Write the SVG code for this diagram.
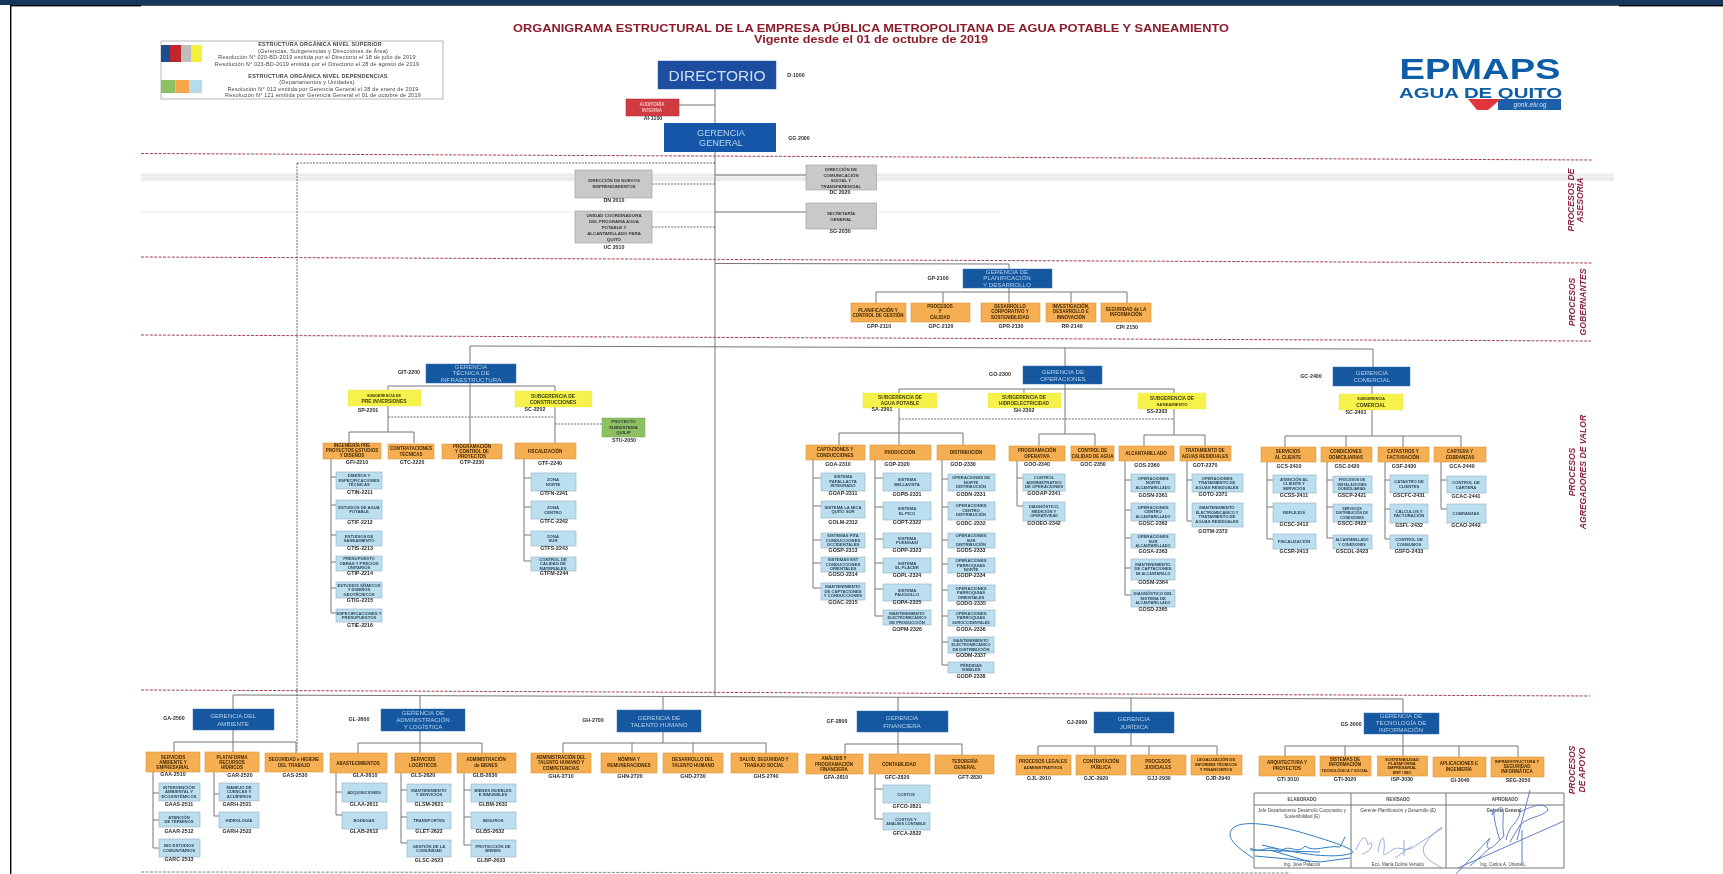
<svg xmlns="http://www.w3.org/2000/svg" width="1723" height="874" viewBox="0 0 1723 874">
<style>
text{font-family:"Liberation Sans",Arial,sans-serif;text-anchor:middle}
.ger{fill:#15589f;stroke:#2e6fb5;stroke-width:.5}
.org{fill:#f6ae52;stroke:#d9963f;stroke-width:.6}
.blu{fill:#bcdff0;stroke:#8fb0c4;stroke-width:.6}
.yel{fill:#f6f24c;stroke:#e6e34a;stroke-width:.4}
.gry{fill:#c9c9c9;stroke:#9a9a9a;stroke-width:.6}
.tg{font-size:6.2px;fill:#b4cfeb}
.to{font-size:4.5px;font-weight:bold;fill:#3f2804}
.tb{font-size:4.2px;fill:#33495a;font-weight:bold}
.ty{font-size:4.9px;font-weight:bold;fill:#3f3f08}
.tr{font-size:4.4px;font-weight:bold;fill:#3a3a3a}
.lb{font-size:5.3px;font-weight:bold;fill:#2e2e2e}
.pr{font-size:8.6px;font-weight:bold;font-style:italic;fill:#8c2340}
.leg{font-size:5.5px;letter-spacing:.2px;fill:#444}
.tbl{font-size:4.5px;fill:#444}
.sol{fill:none;stroke:#777;stroke-width:1}
.dsh{fill:none;stroke:#444;stroke-width:.8;stroke-dasharray:2 1.2}
.red{fill:none;stroke:#a4404f;stroke-width:1;stroke-dasharray:3 1.4}
.grd{fill:none;stroke:#777;stroke-width:.9;stroke-dasharray:3 1.4}
.scn{fill:none;stroke:#ececec}
.sg1{fill:none;stroke:#2d7cc0;stroke-width:1}
.sg2{fill:none;stroke:#7c9ad0;stroke-width:.8}
.sg3{fill:none;stroke:#5f80c4;stroke-width:1}
</style>
<defs><filter id="soft" x="0" y="0" width="100%" height="100%"><feGaussianBlur stdDeviation="0.38"/></filter></defs>
<rect width="1723" height="874" fill="#fff"/>
<g id="page-frame">
<rect x="0" y="0" width="1723" height="5" fill="#17365d"/>
<rect x="10" y="5" width="1713" height=".7" fill="#000"/>
<rect x="10" y="5" width="131" height="1.4" fill="#000"/>
<rect x="1619" y="5" width="104" height="1.4" fill="#000"/>
<rect x="10" y="5" width="1.4" height="869" fill="#000"/>
</g>
<g filter="url(#soft)">
<g id="bands">
<path class="scn" stroke-width="3" d="M141 175H1614"/>
<path class="scn" stroke-width="4" d="M141 179H1614"/>
<path class="scn" stroke-width="1" d="M141 212H1000"/>
<path class="red" d="M141 153.5L1592 160"/>
<path class="red" d="M141 257L1592 263"/>
<path class="red" d="M141 335L1591 341"/>
<path class="red" d="M141 690L1590 696"/>
<path class="grd" d="M141 872L1290 873"/>
</g>
<g id="connectors">
<path class="sol" d="M715 89V697M679 105H715M715 175H806M715 212H806M715 263.500L1009 264V269M876 292H1127M876 292V303M943 292V303M1009 288V303M1071 292V303M1127 292V303"/>
<path class="sol" d="M470 346L1373 349M470 346V364M1065 347.500V366M1373 349V367"/>
<path class="sol" d="M233 695L1403 699M233 695V709M420 696V709M663 697V710M898 697V711M1131 698V712M1403 699V713"/>
<path class="dsh" d="M297 163H715M297 163V752M652 184H715M652 227H715M388 417H555M555 424H602M899 419H1174"/>
<path class="sol" d="M388 386H555M388 386V390M555 386V391M470 383V444M388 406V432M349 432H414M349 432V443M414 432V443M555 407V444"/>
<path class="sol" d="M331 459V613M331 477H336M331 505H336M331 535H336M331 562H336M331 588H336M331 613H336M524 459V561M524 478H531M524 507H531M524 535H531M524 561H531"/>
<path class="sol" d="M899 389H1174M899 389V393M1024 389V393M1174 389V393M1065 384V434M899 408V433M1174 409V435M839 433H963M839 433V445M899 433V445M963 433V445M1039 434H1095M1039 434V446M1095 434V446M1144 435H1205M1144 435V446M1205 435V446"/>
<path class="sol" d="M813 460V588M813 478H821M813 506H821M813 540H821M813 563H821M813 588H821M875 460V616M875 478H883M875 507H883M875 539H883M875 563H883M875 589H883M875 616H883M942 460V665M942 479H948M942 507H948M942 540H948M942 564H948M942 590H948M942 616H948M942 642H948M942 665H948M1017 461V506M1017 478H1023M1017 506H1023M1125 461V595M1125 480H1131M1125 510H1131M1125 538H1131M1125 568H1131M1125 595H1131M1187 461V521M1187 480H1192M1187 521H1192"/>
<path class="sol" d="M1372 386V436M1285 436H1461M1285 436V447M1346 436V447M1403 436V447M1461 436V447M1267 462V539M1267 480H1273M1267 507H1273M1267 539H1273M1327 462V538M1327 480H1333M1327 507H1333M1327 538H1333M1385 462V539M1385 480H1390M1385 509H1390M1385 539H1390M1441 462V509M1441 480H1447M1441 509H1447"/>
<path class="sol" d="M174 742H296M174 742V752M233 730V752M296 742V753M153 772V848M153 793H159M153 820H159M153 848H159M214 772V816M214 794H219M214 816H219M358 743H482M358 743V753M420 731V753M482 743V753M336 773V815M336 792H342M336 815H342M401 773V843M401 790H407M401 817H407M401 843H407M464 773V845M464 790H471M464 817H471M464 845H471"/>
<path class="sol" d="M563 743H766M563 743V753M632 743V753M693 743V753M766 743V753M663 732V743M845 744H962M845 744V754M898 732V754M962 744V755M875 774V819M875 789H883M875 819H883M1038 746H1217M1038 746V755M1095 746V755M1131 733V746M1149 746V755M1217 746V755M1285 746H1518M1285 746V756M1345 746V756M1403 734V756M1459 746V757M1518 746V757"/>
</g>
<g id="title">
<text x="871" y="31.500" font-size="10.500" font-weight="bold" fill="#8c1c2c" textLength="716" lengthAdjust="spacingAndGlyphs">ORGANIGRAMA ESTRUCTURAL DE LA EMPRESA PÚBLICA METROPOLITANA DE AGUA POTABLE Y SANEAMIENTO</text>
<text x="871" y="42.500" font-size="10.500" font-weight="bold" fill="#8c1c2c" textLength="234" lengthAdjust="spacingAndGlyphs">Vigente desde el 01 de octubre de 2019</text>
</g>
<g id="legend">
<rect x="161" y="41" width="282" height="58" fill="#fff" stroke="#999" stroke-width=".7"/>
<rect x="161" y="45" width="9" height="17" fill="#1f4e8c"/><rect x="170" y="45" width="11" height="17" fill="#c0272d"/><rect x="181" y="45" width="10" height="17" fill="#bdbdbd"/><rect x="191" y="45" width="11" height="17" fill="#f5f03a"/>
<rect x="161" y="80" width="14.500" height="13" fill="#8cc063"/><rect x="175.500" y="80" width="13.500" height="13" fill="#f7a64a"/><rect x="189" y="80" width="13" height="13" fill="#b5dcea"/>
<text class="leg" x="320" y="45.500" font-weight="bold">ESTRUCTURA ORGÁNICA NIVEL SUPERIOR</text>
<text class="leg" x="323" y="52.500">(Gerencias, Subgerencias y Direcciones de Área)</text>
<text class="leg" x="317" y="59">Resolución N° 020-BD-2019 emitida por el Directorio el 18 de julio de 2019</text>
<text class="leg" x="317" y="65.500">Resolución N° 023-BD-2019 emitida por el Directorio el 28 de agosto de 2019</text>
<text class="leg" x="318" y="77.500" font-weight="bold">ESTRUCTURA ORGÁNICA NIVEL DEPENDENCIAS</text>
<text class="leg" x="317" y="84">(Departamentos y Unidades)</text>
<text class="leg" x="323" y="90.500">Resolución N° 012 emitida por Gerencia General el 28 de enero de 2019</text>
<text class="leg" x="323" y="97">Resolución N° 121 emitida por Gerencia General el 01 de octubre de 2019</text>
</g>
<g id="logo">
<text x="1480" y="78.500" font-size="30" font-weight="bold" fill="#0b5ca6" textLength="161" lengthAdjust="spacingAndGlyphs">EPMAPS</text>
<text x="1480.500" y="97.500" font-size="15.500" font-weight="bold" fill="#0b5ca6" textLength="163" lengthAdjust="spacingAndGlyphs">AGUA DE QUITO</text>
<rect x="1498" y="99" width="63" height="11" fill="#1d5fa8"/>
<polygon points="1468,99 1501,99 1488,110 1477,110" fill="#e1353a"/>
<text x="1530" y="107" font-size="6.500" font-style="italic" fill="#cfe0f2">gonk.elv.og</text>
</g>
<g id="n-directorio"><rect x="658" y="61" width="118" height="28" fill="#1a4d9f" stroke="#2e62b0" stroke-width=".5"/><text x="717" y="80.500" font-size="15.500" fill="#cfe0f5">DIRECTORIO</text><text class="lb" x="796" y="77">D-1000</text></g>
<g id="n-auditoria"><rect x="626" y="99" width="53" height="17" fill="#cf3a3f" stroke="#b02a2f" stroke-width=".5"/><text x="652" y="106" font-size="4.500" font-weight="bold" fill="#f2c7c7">AUDITORÍA</text><text x="652" y="111.500" font-size="4.500" font-weight="bold" fill="#f2c7c7">INTERNA</text><text class="lb" x="653" y="120">AI-1100</text></g>
<g id="n-gerencia-general"><rect x="664" y="123" width="112" height="29" fill="#1557a8"/><text x="721" y="135.500" font-size="9.200" fill="#bcd3ee">GERENCIA</text><text x="721" y="145.500" font-size="9.200" fill="#bcd3ee">GENERAL</text><text class="lb" x="799" y="139.500">GG 2000</text></g>
<g id="n-dne"><rect class="gry" x="575" y="170" width="77" height="28"/><text class="tr" x="614" y="182">DIRECCIÓN DE NUEVOS</text><text class="tr" x="614" y="187.500">EMPRENDIMIENTOS</text><text class="lb" x="614" y="201.500">DN 2010</text></g>
<g id="n-uc"><rect class="gry" x="575" y="211" width="77" height="32"/><text class="tr" x="614" y="217">UNIDAD COORDINADORA</text><text class="tr" x="614" y="223">DEL PROGRAMA AGUA</text><text class="tr" x="614" y="229">POTABLE Y</text><text class="tr" x="614" y="235">ALCANTARILLADO PARA</text><text class="tr" x="614" y="241">QUITO</text><text class="lb" x="614" y="248.500">UC 2010</text></g>
<g id="n-dc"><rect class="gry" x="806" y="165" width="70.500" height="25"/><text class="tr" x="841" y="170.500">DIRECCIÓN DE</text><text class="tr" x="841" y="176.500">COMUNICACIÓN</text><text class="tr" x="841" y="182">SOCIAL Y</text><text class="tr" x="841" y="188">TRANSPARENCIAL</text><text class="lb" x="840" y="194">DC 2020</text></g>
<g id="n-sg"><rect class="gry" x="806" y="203" width="70.500" height="26"/><text class="tr" x="841" y="214.500">SECRETARÍA</text><text class="tr" x="841" y="220.500">GENERAL</text><text class="lb" x="840" y="232.500">SG-2030</text></g>
<g id="n-gp"><rect class="ger" x="963" y="269" width="89" height="19"/><text class="tg" x="1007" y="273.500">GERENCIA DE</text><text class="tg" x="1007" y="280">PLANIFICACIÓN</text><text class="tg" x="1007" y="286.500">Y DESARROLLO</text><text class="lb" x="938" y="280">GP-2100</text></g>
<g id="n-gpp"><rect class="org" x="851" y="303" width="55" height="19"/><text class="to" x="878" y="312">PLANIFICACIÓN Y</text><text class="to" x="878" y="317">CONTROL DE GESTIÓN</text><text class="lb" x="879" y="328">GPP-2110</text></g>
<g id="n-gpc"><rect class="org" x="911" y="303" width="59" height="19"/><text class="to" x="940" y="308">PROCESOS</text><text class="to" x="940" y="313">Y</text><text class="to" x="940" y="318.500">CALIDAD</text><text class="lb" x="941" y="328">GPC-2120</text></g>
<g id="n-gpr"><rect class="org" x="981" y="303" width="59" height="19"/><text class="to" x="1010" y="308">DESARROLLO</text><text class="to" x="1010" y="313">CORPORATIVO Y</text><text class="to" x="1010" y="318.500">SOSTENIBILIDAD</text><text class="lb" x="1011" y="328">GPR-2130</text></g>
<g id="n-gpi"><rect class="org" x="1046" y="303" width="50" height="19"/><text class="to" x="1071" y="308">INVESTIGACIÓN,</text><text class="to" x="1071" y="313">DESARROLLO E</text><text class="to" x="1071" y="318.500">INNOVACIÓN</text><text class="lb" x="1072" y="328">RR-2140</text></g>
<g id="n-cpi"><rect class="org" x="1101" y="303" width="50" height="19"/><text class="to" x="1126" y="311">SEGURIDAD de LA</text><text class="to" x="1126" y="316">INFORMACIÓN</text><text class="lb" x="1127" y="329">CPI 2150</text></g>
<g id="n-git"><rect class="ger" x="426" y="364" width="90" height="19"/><text class="tg" x="471" y="368.500">GERENCIA</text><text class="tg" x="471" y="375">TÉCNICA DE</text><text class="tg" x="471" y="381.500">INFRAESTRUCTURA</text><text class="lb" x="409" y="374">GIT-2200</text></g>
<g id="n-sp"><rect class="yel" x="348" y="390" width="73" height="16"/><text class="ty" x="384" y="396.500" style="font-size:3.800px">SUBGERENCIA DE</text><text class="ty" x="384" y="402.500">PRE INVERSIONES</text><text class="lb" x="368" y="412">SP-2201</text></g>
<g id="n-sc"><rect class="yel" x="515" y="391" width="77" height="16"/><text class="ty" x="553" y="397.500">SUBGERENCIA DE</text><text class="ty" x="553" y="403.500">CONSTRUCCIONES</text><text class="lb" x="535" y="411">SC-2202</text></g>
<g id="n-stu"><rect x="602" y="418" width="43" height="19" fill="#8cc063" stroke="#79a855" stroke-width=".5"/><text class="tr" x="623.500" y="423">PROYECTO</text><text class="tr" x="623.500" y="428.500">SUBSISTEMA</text><text class="tr" x="623.500" y="434">QUILIP</text><text class="lb" x="624" y="442">STU-2050</text></g>
<g id="n-gfi"><rect class="org" x="323" y="443" width="58" height="16"/><text class="to" x="352" y="447">INGENIERÍA PRE</text><text class="to" x="352" y="452">PROYECTOS ESTUDIOS</text><text class="to" x="352" y="457">Y DISEÑOS</text><text class="lb" x="357" y="464">GFI-2210</text></g>
<g id="n-gtc"><rect class="org" x="388" y="444" width="46" height="15"/><text class="to" x="411" y="450">CONTRATACIONES</text><text class="to" x="411" y="455.500">TÉCNICAS</text><text class="lb" x="412" y="464">GTC-2220</text></g>
<g id="n-gtp"><rect class="org" x="442" y="444" width="60" height="15"/><text class="to" x="472" y="447.500">PROGRAMACIÓN</text><text class="to" x="472" y="452.500">Y CONTROL DE</text><text class="to" x="472" y="457.500">PROYECTOS</text><text class="lb" x="472" y="464">GTP-2230</text></g>
<g id="n-gtf"><rect class="org" x="515" y="443" width="61" height="16"/><text class="to" x="545" y="453">FISCALIZACIÓN</text><text class="lb" x="550" y="465">GTF-2240</text></g>
<g id="n-gtin"><rect class="blu" x="336" y="472" width="46" height="17"/><text class="tb" x="359" y="477">DISEÑOS Y</text><text class="tb" x="359" y="481.500">ESPECIFICACIONES</text><text class="tb" x="359" y="486">TÉCNICAS</text><text class="lb" x="360" y="494">GTIN-2211</text></g>
<g id="n-gtif"><rect class="blu" x="336" y="500" width="46" height="19"/><text class="tb" x="359" y="508.500">ESTUDIOS DE AGUA</text><text class="tb" x="359" y="513">POTABLE</text><text class="lb" x="360" y="524">GTIF-2212</text></g>
<g id="n-gtis"><rect class="blu" x="336" y="531" width="46" height="15"/><text class="tb" x="359" y="537.500">ESTUDIOS DE</text><text class="tb" x="359" y="542">SANEAMIENTO</text><text class="lb" x="360" y="550">GTIS-2213</text></g>
<g id="n-gtip"><rect class="blu" x="336" y="556" width="46" height="15"/><text class="tb" x="359" y="560">PRESUPUESTO</text><text class="tb" x="359" y="564.500">OBRAS Y PRECIOS</text><text class="tb" x="359" y="569">UNITARIOS</text><text class="lb" x="360" y="575">GTIP-2214</text></g>
<g id="n-gtig"><rect class="blu" x="336" y="582" width="46" height="16"/><text class="tb" x="359" y="586.500">ESTUDIOS SÍSMICOS</text><text class="tb" x="359" y="591">Y DISEÑOS</text><text class="tb" x="359" y="595.500">GEOTÉCNICOS</text><text class="lb" x="360" y="602">GTIG-2215</text></g>
<g id="n-gtie"><rect class="blu" x="336" y="609" width="46" height="13"/><text class="tb" x="359" y="614.500">ESPECIFICACIONES Y</text><text class="tb" x="359" y="619">PRESUPUESTOS</text><text class="lb" x="360" y="627">GTIE-2216</text></g>
<g id="n-gtfn"><rect class="blu" x="531" y="473" width="45" height="18"/><text class="tb" x="553" y="481">ZONA</text><text class="tb" x="553" y="485.500">NORTE</text><text class="lb" x="554" y="494.500">GTFN-2241</text></g>
<g id="n-gtfc"><rect class="blu" x="531" y="501" width="45" height="18"/><text class="tb" x="553" y="509">ZONA</text><text class="tb" x="553" y="513.500">CENTRO</text><text class="lb" x="554" y="523">GTFC-2242</text></g>
<g id="n-gtfs"><rect class="blu" x="531" y="531" width="45" height="15"/><text class="tb" x="553" y="537.500">ZONA</text><text class="tb" x="553" y="542">SUR</text><text class="lb" x="554" y="550">GTFS-2243</text></g>
<g id="n-gtfm"><rect class="blu" x="531" y="557" width="45" height="14"/><text class="tb" x="553" y="561">CONTROL DE</text><text class="tb" x="553" y="565">CALIDAD DE</text><text class="tb" x="553" y="569.500">MATERIALES</text><text class="lb" x="554" y="575">GTFM-2244</text></g>
<g id="n-go"><rect class="ger" x="1023" y="366" width="79" height="18"/><text class="tg" x="1063" y="373.500">GERENCIA DE</text><text class="tg" x="1063" y="380.500">OPERACIONES</text><text class="lb" x="1000" y="376">GO-2300</text></g>
<g id="n-sa"><rect class="yel" x="863" y="393" width="74" height="15"/><text class="ty" x="900" y="399">SUBGERENCIA DE</text><text class="ty" x="900" y="405">AGUA POTABLE</text><text class="lb" x="882" y="411">SA-2301</text></g>
<g id="n-sh"><rect class="yel" x="988" y="393" width="73" height="15"/><text class="ty" x="1024" y="399">SUBGERENCIA DE</text><text class="ty" x="1024" y="405" style="font-size:4.700px">HIDROELECTRICIDAD</text><text class="lb" x="1024" y="411.500">SH-2302</text></g>
<g id="n-ss"><rect class="yel" x="1138" y="393" width="68" height="16"/><text class="ty" x="1172" y="399.500">SUBGERENCIA DE</text><text class="ty" x="1172" y="405.500" style="font-size:4.200px">SANEAMIENTO</text><text class="lb" x="1157" y="413">SS-2303</text></g>
<g id="n-goa"><rect class="org" x="806" y="445" width="59" height="15"/><text class="to" x="835" y="451">CAPTACIONES Y</text><text class="to" x="835" y="456.500">CONDUCCIONES</text><text class="lb" x="838" y="466">GOA-2310</text></g>
<g id="n-gop"><rect class="org" x="870" y="445" width="61" height="15"/><text class="to" x="900" y="454">PRODUCCIÓN</text><text class="lb" x="897" y="466">GOP-2320</text></g>
<g id="n-god"><rect class="org" x="937" y="445" width="58" height="15"/><text class="to" x="966" y="454">DISTRIBUCIÓN</text><text class="lb" x="963" y="466">GOD-2330</text></g>
<g id="n-goo"><rect class="org" x="1009" y="446" width="56" height="15"/><text class="to" x="1037" y="452">PROGRAMACIÓN</text><text class="to" x="1037" y="457.500">OPERATIVA</text><text class="lb" x="1037" y="466">GOO-2340</text></g>
<g id="n-goc"><rect class="org" x="1071" y="446" width="43" height="15"/><text class="to" x="1092.500" y="452">CONTROL DE</text><text class="to" x="1092.500" y="457.500">CALIDAD DE AGUA</text><text class="lb" x="1093" y="466">GOC-2350</text></g>
<g id="n-gos"><rect class="org" x="1119" y="446" width="55" height="15"/><text class="to" x="1146" y="455">ALCANTARILLADO</text><text class="lb" x="1147" y="467">GOS-2360</text></g>
<g id="n-got"><rect class="org" x="1180" y="446" width="51" height="15"/><text class="to" x="1205" y="452">TRATAMIENTO DE</text><text class="to" x="1205" y="457.500">AGUAS RESIDUALES</text><text class="lb" x="1205" y="467">GOT-2370</text></g>
<g id="n-goap"><rect class="blu" x="821" y="473" width="44" height="18"/><text class="tb" x="843" y="478">SISTEMA</text><text class="tb" x="843" y="482.500">PAPALLACTA</text><text class="tb" x="843" y="487">INTEGRADO</text><text class="lb" x="843" y="495">GOAP-2311</text></g>
<g id="n-golm"><rect class="blu" x="821" y="501" width="44" height="17"/><text class="tb" x="843" y="508.500">SISTEMA LA MICA</text><text class="tb" x="843" y="513">QUITO SUR</text><text class="lb" x="843" y="524">GOLM-2312</text></g>
<g id="n-gosp"><rect class="blu" x="821" y="533" width="44" height="15"/><text class="tb" x="843" y="537">SISTEMAS PITA</text><text class="tb" x="843" y="541.500">CONDUCCIONES</text><text class="tb" x="843" y="546">OCCIDENTALES</text><text class="lb" x="843" y="551.500">GOSP-2313</text></g>
<g id="n-goso"><rect class="blu" x="821" y="557" width="44" height="15"/><text class="tb" x="843" y="561">SISTEMAS EST</text><text class="tb" x="843" y="565.500">CONDUCCIONES</text><text class="tb" x="843" y="570">ORIENTALES</text><text class="lb" x="843" y="576">GOSO-2314</text></g>
<g id="n-goac"><rect class="blu" x="821" y="583" width="44" height="17"/><text class="tb" x="843" y="588">MANTENIMIENTO</text><text class="tb" x="843" y="592.500">DE CAPTACIONES</text><text class="tb" x="843" y="597">Y CONDUCCIONES</text><text class="lb" x="843" y="604">GOAC-2315</text></g>
<g id="n-gopb"><rect class="blu" x="883" y="473" width="48" height="18"/><text class="tb" x="907" y="481">SISTEMA</text><text class="tb" x="907" y="485.500">BELLAVISTA</text><text class="lb" x="907" y="496">GOPB-2321</text></g>
<g id="n-gopt"><rect class="blu" x="883" y="502" width="48" height="18"/><text class="tb" x="907" y="510">SISTEMA</text><text class="tb" x="907" y="514.500">EL PICO</text><text class="lb" x="907" y="524">GOPT-2322</text></g>
<g id="n-gopp"><rect class="blu" x="883" y="533" width="48" height="15"/><text class="tb" x="907" y="539.500">SISTEMA</text><text class="tb" x="907" y="544">PUENGASÍ</text><text class="lb" x="907" y="551.500">GOPP-2323</text></g>
<g id="n-gopl"><rect class="blu" x="883" y="558" width="48" height="15"/><text class="tb" x="907" y="564.500">SISTEMA</text><text class="tb" x="907" y="569">EL PLACER</text><text class="lb" x="907" y="577">GOPL-2324</text></g>
<g id="n-gopa"><rect class="blu" x="883" y="584" width="48" height="17"/><text class="tb" x="907" y="591.500">SISTEMA</text><text class="tb" x="907" y="596">PAUGUILLO</text><text class="lb" x="907" y="604">GOPA-2325</text></g>
<g id="n-gopm"><rect class="blu" x="883" y="610" width="48" height="15"/><text class="tb" x="907" y="614.500">MANTENIMIENTO</text><text class="tb" x="907" y="619" style="font-size:3.800px">ELECTROMECÁNICO</text><text class="tb" x="907" y="623.500">DE PRODUCCIÓN</text><text class="lb" x="907" y="631">GOPM-2326</text></g>
<g id="n-godn"><rect class="blu" x="948" y="474" width="47" height="17"/><text class="tb" x="971" y="479">OPERACIONES DE</text><text class="tb" x="971" y="483.500">NORTE</text><text class="tb" x="971" y="488">DISTRIBUCIÓN</text><text class="lb" x="971" y="496">GODN-2331</text></g>
<g id="n-godc"><rect class="blu" x="948" y="502" width="47" height="18"/><text class="tb" x="971" y="507">OPERACIONES</text><text class="tb" x="971" y="511.500">CENTRO</text><text class="tb" x="971" y="516">DISTRIBUCIÓN</text><text class="lb" x="971" y="525">GODC-2332</text></g>
<g id="n-gods"><rect class="blu" x="948" y="533" width="47" height="15"/><text class="tb" x="971" y="537">OPERACIONES</text><text class="tb" x="971" y="541.500">SUR</text><text class="tb" x="971" y="546">DISTRIBUCIÓN</text><text class="lb" x="971" y="551.500">GODS-2333</text></g>
<g id="n-godp"><rect class="blu" x="948" y="558" width="47" height="15"/><text class="tb" x="971" y="562">OPERACIONES</text><text class="tb" x="971" y="566.500">PARROQUIAS</text><text class="tb" x="971" y="571">NORTE</text><text class="lb" x="971" y="577">GODP-2334</text></g>
<g id="n-godo"><rect class="blu" x="948" y="585" width="47" height="16"/><text class="tb" x="971" y="589.500">OPERACIONES</text><text class="tb" x="971" y="594">PARROQUIAS</text><text class="tb" x="971" y="598.500">ORIENTALES</text><text class="lb" x="971" y="605">GODO-2335</text></g>
<g id="n-goda"><rect class="blu" x="948" y="610" width="47" height="16"/><text class="tb" x="971" y="614.500">OPERACIONES</text><text class="tb" x="971" y="619">PARROQUIAS</text><text class="tb" x="971" y="623.500" style="font-size:3.800px">SUROCCIDENTALES</text><text class="lb" x="971" y="631">GODA-2336</text></g>
<g id="n-godm"><rect class="blu" x="948" y="637" width="46" height="16"/><text class="tb" x="971" y="641.500">MANTENIMIENTO</text><text class="tb" x="971" y="646" style="font-size:3.800px">ELECTROMECÁNICO</text><text class="tb" x="971" y="650.500">DE DISTRIBUCIÓN</text><text class="lb" x="971" y="657">GODM-2337</text></g>
<g id="n-godv"><rect class="blu" x="948" y="662" width="46" height="11"/><text class="tb" x="971" y="666.500">PÉRDIDAS</text><text class="tb" x="971" y="671">VISIBLES</text><text class="lb" x="971" y="678">GODP-2338</text></g>
<g id="n-gooa"><rect class="blu" x="1023" y="474" width="42" height="17"/><text class="tb" x="1044" y="479">CONTROL</text><text class="tb" x="1044" y="483.500">ADMINISTRATIVO</text><text class="tb" x="1044" y="488">DE OPERACIONES</text><text class="lb" x="1044" y="495">GOOAP-2341</text></g>
<g id="n-gooe"><rect class="blu" x="1023" y="502" width="42" height="19"/><text class="tb" x="1044" y="508">DIAGNÓSTICO,</text><text class="tb" x="1044" y="512.500">MEDICIÓN Y</text><text class="tb" x="1044" y="517" style="font-size:3.700px">OPERATIVIDAD</text><text class="lb" x="1044" y="525">GOOEO-2342</text></g>
<g id="n-gosn"><rect class="blu" x="1131" y="474" width="44" height="18"/><text class="tb" x="1153" y="479.500">OPERACIONES</text><text class="tb" x="1153" y="484">NORTE</text><text class="tb" x="1153" y="488.500" style="font-size:3.800px">ALCANTARILLADO</text><text class="lb" x="1153" y="497">GOSN-2361</text></g>
<g id="n-gosc"><rect class="blu" x="1131" y="503" width="44" height="18"/><text class="tb" x="1153" y="508.500">OPERACIONES</text><text class="tb" x="1153" y="513">CENTRO</text><text class="tb" x="1153" y="517.500" style="font-size:3.800px">ALCANTARILLADO</text><text class="lb" x="1153" y="525">GOSC-2362</text></g>
<g id="n-gosa"><rect class="blu" x="1131" y="534" width="44" height="14"/><text class="tb" x="1153" y="538">OPERACIONES</text><text class="tb" x="1153" y="542.500">SUR</text><text class="tb" x="1153" y="547" style="font-size:3.800px">ALCANTARILLADO</text><text class="lb" x="1153" y="553">GOSA-2363</text></g>
<g id="n-gosm"><rect class="blu" x="1131" y="559" width="44" height="21"/><text class="tb" x="1153" y="565.500">MANTENIMIENTO</text><text class="tb" x="1153" y="570">DE CAPTACIONES</text><text class="tb" x="1153" y="574.500" style="font-size:3.700px">DE ALCANTARILLO</text><text class="lb" x="1153" y="584">GOSM-2364</text></g>
<g id="n-gosd"><rect class="blu" x="1131" y="590" width="44" height="17"/><text class="tb" x="1153" y="595">DIAGNÓSTICO DEL</text><text class="tb" x="1153" y="599.500">SISTEMA DE</text><text class="tb" x="1153" y="604" style="font-size:3.800px">ALCANTARILLADO</text><text class="lb" x="1153" y="611">GOSD-2365</text></g>
<g id="n-goto"><rect class="blu" x="1192" y="474" width="51" height="18"/><text class="tb" x="1217" y="479.500">OPERACIONES</text><text class="tb" x="1217" y="484">TRATAMIENTO DE</text><text class="tb" x="1217" y="488.500">AGUAS RESIDUALES</text><text class="lb" x="1213" y="496">GOTO-2371</text></g>
<g id="n-gotm"><rect class="blu" x="1192" y="503" width="51" height="24"/><text class="tb" x="1217" y="509">MANTENIMIENTO</text><text class="tb" x="1217" y="513.500" style="font-size:3.800px">ELECTROMECÁNICO Y</text><text class="tb" x="1217" y="518">TRATAMIENTO DE</text><text class="tb" x="1217" y="522.500">AGUAS RESIDUALES</text><text class="lb" x="1213" y="533">GOTM-2372</text></g>
<g id="n-gc"><rect class="ger" x="1333" y="367" width="77" height="19"/><text class="tg" x="1372" y="374.500">GERENCIA</text><text class="tg" x="1372" y="381.500">COMERCIAL</text><text class="lb" x="1311" y="378">GC-2400</text></g>
<g id="n-scm"><rect class="yel" x="1339" y="394" width="64" height="16"/><text class="ty" x="1371" y="400" style="font-size:3.800px">SUBGERENCIA</text><text class="ty" x="1371" y="406.500">COMERCIAL</text><text class="lb" x="1356" y="413.500">SC-2401</text></g>
<g id="n-gcs"><rect class="org" x="1261" y="447" width="55" height="15"/><text class="to" x="1288" y="453">SERVICIOS</text><text class="to" x="1288" y="458.500">AL CLIENTE</text><text class="lb" x="1289" y="468">GCS-2410</text></g>
<g id="n-gsc"><rect class="org" x="1321" y="447" width="51" height="15"/><text class="to" x="1346" y="453">CONDICIONES</text><text class="to" x="1346" y="458.500">DOMICILIARIAS</text><text class="lb" x="1347" y="468">GSC-2420</text></g>
<g id="n-gsf"><rect class="org" x="1378" y="447" width="51" height="15"/><text class="to" x="1403" y="453">CATASTROS Y</text><text class="to" x="1403" y="458.500">FACTURACIÓN</text><text class="lb" x="1404" y="468">GSF-2430</text></g>
<g id="n-gca"><rect class="org" x="1434" y="447" width="52" height="15"/><text class="to" x="1460" y="453">CARTERA Y</text><text class="to" x="1460" y="458.500">COBRANZAS</text><text class="lb" x="1462" y="468">GCA-2440</text></g>
<g id="n-gcss"><rect class="blu" x="1273" y="475" width="43" height="18"/><text class="tb" x="1294" y="480.500">ATENCIÓN AL</text><text class="tb" x="1294" y="485">CLIENTE Y</text><text class="tb" x="1294" y="489.500">SERVICIOS</text><text class="lb" x="1294" y="496.500">GCSS-2411</text></g>
<g id="n-gcsc"><rect class="blu" x="1273" y="503" width="43" height="19"/><text class="tb" x="1294" y="514">REFLEJOS</text><text class="lb" x="1294" y="526">GCSC-2412</text></g>
<g id="n-gcsr"><rect class="blu" x="1273" y="534" width="43" height="15"/><text class="tb" x="1294" y="543">FISCALIZACIÓN</text><text class="lb" x="1294" y="553">GCSR-2413</text></g>
<g id="n-gscp"><rect class="blu" x="1333" y="476" width="39" height="17"/><text class="tb" x="1352" y="481" style="font-size:3.600px">PROCESOS DE</text><text class="tb" x="1352" y="485.500" style="font-size:3.600px">INSTALACIONES</text><text class="tb" x="1352" y="490" style="font-size:3.600px">DOMICILIARIAS</text><text class="lb" x="1352" y="497">GSCP-2421</text></g>
<g id="n-gscc"><rect class="blu" x="1333" y="504" width="39" height="18"/><text class="tb" x="1352" y="509.500" style="font-size:3.600px">SERVICIOS</text><text class="tb" x="1352" y="514" style="font-size:3.600px">DISTRIBUCIÓN DE</text><text class="tb" x="1352" y="518.500" style="font-size:3.600px">CONEXIONES</text><text class="lb" x="1352" y="525">GSCC-2422</text></g>
<g id="n-gsco"><rect class="blu" x="1333" y="535" width="39" height="14"/><text class="tb" x="1352" y="541" style="font-size:3.600px">ALCANTARILLADO</text><text class="tb" x="1352" y="545.500" style="font-size:3.600px">Y CONEXIONES</text><text class="lb" x="1352" y="553">GSCOL-2423</text></g>
<g id="n-gscf"><rect class="blu" x="1390" y="475" width="38" height="18"/><text class="tb" x="1409" y="483">CATASTRO DE</text><text class="tb" x="1409" y="487.500">CLIENTES</text><text class="lb" x="1409" y="497">GSCFC-2431</text></g>
<g id="n-gsfl"><rect class="blu" x="1390" y="504" width="38" height="19"/><text class="tb" x="1409" y="512.500">CÁLCULOS Y</text><text class="tb" x="1409" y="517">FACTURACIÓN</text><text class="lb" x="1409" y="527">GSFL-2432</text></g>
<g id="n-gsfo"><rect class="blu" x="1390" y="535" width="38" height="14"/><text class="tb" x="1409" y="541">CONTROL DE</text><text class="tb" x="1409" y="545.500">CONSUMOS</text><text class="lb" x="1409" y="553">GSFO-2433</text></g>
<g id="n-gcac"><rect class="blu" x="1447" y="476" width="39" height="17"/><text class="tb" x="1466" y="484">CONTROL DE</text><text class="tb" x="1466" y="488.500">CARTERA</text><text class="lb" x="1466" y="498">GCAC-2441</text></g>
<g id="n-gcao"><rect class="blu" x="1447" y="504" width="39" height="19"/><text class="tb" x="1466" y="515">COBRANZAS</text><text class="lb" x="1466" y="527">GCAO-2442</text></g>
<g id="n-ga"><rect class="ger" x="193" y="709" width="81" height="21"/><text class="tg" x="233" y="718">GERENCIA DEL</text><text class="tg" x="233" y="726">AMBIENTE</text><text class="lb" x="174" y="720">GA-2500</text></g>
<g id="n-gaa"><rect class="org" x="146" y="752" width="54" height="20"/><text class="to" x="173" y="759">SERVICIOS</text><text class="to" x="173" y="764">AMBIENTE Y</text><text class="to" x="173" y="769">EMPRESARIAL</text><text class="lb" x="173" y="776">GAA-2510</text></g>
<g id="n-gar"><rect class="org" x="205" y="752" width="54" height="20"/><text class="to" x="232" y="759">PLATAFORMA</text><text class="to" x="232" y="764">RECURSOS</text><text class="to" x="232" y="769">HÍDRICOS</text><text class="lb" x="240" y="777">GAR-2520</text></g>
<g id="n-gas"><rect class="org" x="265" y="753" width="58" height="19"/><text class="to" x="294" y="761">SEGURIDAD e HIGIENE</text><text class="to" x="294" y="766.500">DEL TRABAJO</text><text class="lb" x="295" y="777">GAS-2530</text></g>
<g id="n-gaas"><rect class="blu" x="159" y="783" width="41" height="18"/><text class="tb" x="179" y="788.500">INTERVENCIÓN</text><text class="tb" x="179" y="793">AMBIENTAL Y</text><text class="tb" x="179" y="797.500">ECOSISTÉMICOS</text><text class="lb" x="179" y="806">GAAS-2511</text></g>
<g id="n-gaar"><rect class="blu" x="159" y="812" width="41" height="15"/><text class="tb" x="179" y="818.500">ATENCIÓN</text><text class="tb" x="179" y="823">DE TÉRMINOS</text><text class="lb" x="179" y="833">GAAR-2512</text></g>
<g id="n-garc"><rect class="blu" x="159" y="839" width="41" height="18"/><text class="tb" x="179" y="847">BIO ESTUDIOS</text><text class="tb" x="179" y="851.500">COMUNITARIOS</text><text class="lb" x="179" y="861">GARC-2513</text></g>
<g id="n-garh"><rect class="blu" x="219" y="783" width="40" height="18"/><text class="tb" x="239" y="788.500">MANEJO DE</text><text class="tb" x="239" y="793">CUENCAS Y</text><text class="tb" x="239" y="797.500">ACUÍFEROS</text><text class="lb" x="237" y="806">GARH-2521</text></g>
<g id="n-garh2"><rect class="blu" x="219" y="812" width="40" height="16"/><text class="tb" x="239" y="821.500">HIDROLOGÍA</text><text class="lb" x="237" y="833">GARH-2522</text></g>
<g id="n-gl"><rect class="ger" x="381" y="709" width="84" height="22"/><text class="tg" x="423" y="714.500">GERENCIA DE</text><text class="tg" x="423" y="721.500">ADMINISTRACIÓN</text><text class="tg" x="423" y="728.500">Y LOGÍSTICA</text><text class="lb" x="359" y="721">GL-2600</text></g>
<g id="n-gla"><rect class="org" x="330" y="753" width="57" height="20"/><text class="to" x="358" y="764.500">ABASTECIMIENTOS</text><text class="lb" x="365" y="777">GLA-2610</text></g>
<g id="n-gls"><rect class="org" x="395" y="753" width="56" height="20"/><text class="to" x="423" y="761">SERVICIOS</text><text class="to" x="423" y="766.500">LOGÍSTICOS</text><text class="lb" x="423" y="777">GLS-2620</text></g>
<g id="n-glb"><rect class="org" x="457" y="753" width="59" height="20"/><text class="to" x="486" y="761">ADMINISTRACIÓN</text><text class="to" x="486" y="766.500">de BIENES</text><text class="lb" x="485" y="777">GLB-2630</text></g>
<g id="n-glaa"><rect class="blu" x="342" y="783" width="45" height="19"/><text class="tb" x="364" y="794">ADQUISICIONES</text><text class="lb" x="364" y="806">GLAA-2611</text></g>
<g id="n-glab"><rect class="blu" x="342" y="812" width="45" height="17"/><text class="tb" x="364" y="822">BODEGAS</text><text class="lb" x="364" y="833">GLAB-2612</text></g>
<g id="n-glsm"><rect class="blu" x="407" y="784" width="44" height="18"/><text class="tb" x="429" y="791.500">MANTENIMIENTO</text><text class="tb" x="429" y="796">Y SERVICIOS</text><text class="lb" x="429" y="806">GLSM-2621</text></g>
<g id="n-glet"><rect class="blu" x="407" y="812" width="44" height="17"/><text class="tb" x="429" y="822">TRANSPORTES</text><text class="lb" x="429" y="833">GLET-2622</text></g>
<g id="n-glsc"><rect class="blu" x="407" y="840" width="44" height="17"/><text class="tb" x="429" y="847.500">GESTIÓN DE LA</text><text class="tb" x="429" y="852">COMUNIDAD</text><text class="lb" x="429" y="862">GLSC-2623</text></g>
<g id="n-glbm"><rect class="blu" x="471" y="784" width="45" height="18"/><text class="tb" x="493" y="791.500">BIENES MUEBLES</text><text class="tb" x="493" y="796">E INMUEBLES</text><text class="lb" x="493" y="806">GLBM-2631</text></g>
<g id="n-glbs"><rect class="blu" x="471" y="812" width="45" height="17"/><text class="tb" x="493" y="822">SEGUROS</text><text class="lb" x="490" y="833">GLBS-2632</text></g>
<g id="n-glbp"><rect class="blu" x="471" y="840" width="45" height="17"/><text class="tb" x="493" y="847.500">PROTECCIÓN DE</text><text class="tb" x="493" y="852">BIENES</text><text class="lb" x="491" y="862">GLBP-2633</text></g>
<g id="n-gh"><rect class="ger" x="617" y="710" width="84" height="22"/><text class="tg" x="659" y="719.500">GERENCIA DE</text><text class="tg" x="659" y="727">TALENTO HUMANO</text><text class="lb" x="593" y="722">GH-2700</text></g>
<g id="n-gha"><rect class="org" x="531" y="753" width="60" height="20"/><text class="to" x="561" y="759">ADMINISTRACIÓN DEL</text><text class="to" x="561" y="764">TALENTO HUMANO Y</text><text class="to" x="561" y="769.500">COMPETENCIAS</text><text class="lb" x="561" y="778">GHA-2710</text></g>
<g id="n-ghn"><rect class="org" x="601" y="753" width="56" height="20"/><text class="to" x="629" y="761">NÓMINA Y</text><text class="to" x="629" y="766.500">REMUNERACIONES</text><text class="lb" x="630" y="778">GHN-2720</text></g>
<g id="n-ghd"><rect class="org" x="663" y="753" width="60" height="20"/><text class="to" x="693" y="761">DESARROLLO DEL</text><text class="to" x="693" y="766.500">TALENTO HUMANO</text><text class="lb" x="693" y="778">GHD-2730</text></g>
<g id="n-ghs"><rect class="org" x="731" y="753" width="67" height="20"/><text class="to" x="764" y="761">SALUD, SEGURIDAD Y</text><text class="to" x="764" y="766.500">TRABAJO SOCIAL</text><text class="lb" x="766" y="778">GHS-2740</text></g>
<g id="n-gf"><rect class="ger" x="857" y="711" width="91" height="21"/><text class="tg" x="902" y="720">GERENCIA</text><text class="tg" x="902" y="727.500">FINANCIERA</text><text class="lb" x="837" y="723">GF-2800</text></g>
<g id="n-gfa"><rect class="org" x="806" y="754" width="57" height="20"/><text class="to" x="834" y="760">ANÁLISIS Y</text><text class="to" x="834" y="765.500">PROGRAMACIÓN</text><text class="to" x="834" y="770.500">FINANCIERA</text><text class="lb" x="836" y="778.500">GFA-2810</text></g>
<g id="n-gfc"><rect class="org" x="869" y="754" width="61" height="20"/><text class="to" x="899" y="765.500">CONTABILIDAD</text><text class="lb" x="897" y="779">GFC-2820</text></g>
<g id="n-gft"><rect class="org" x="935" y="755" width="59" height="19"/><text class="to" x="965" y="763">TESORERÍA</text><text class="to" x="965" y="768.500">GENERAL</text><text class="lb" x="970" y="779">GFT-2830</text></g>
<g id="n-gfco"><rect class="blu" x="883" y="785" width="47" height="18"/><text class="tb" x="906" y="795.500">COSTOS</text><text class="lb" x="907" y="808">GFCO-2821</text></g>
<g id="n-gfca"><rect class="blu" x="883" y="813" width="47" height="17"/><text class="tb" x="906" y="820.500">COSTOS Y</text><text class="tb" x="906" y="825" style="font-size:3.800px">ANÁLISIS CONTABLE</text><text class="lb" x="907" y="835">GFCA-2822</text></g>
<g id="n-gj"><rect class="ger" x="1094" y="712" width="80" height="21"/><text class="tg" x="1134" y="721">GERENCIA</text><text class="tg" x="1134" y="728.500">JURÍDICA</text><text class="lb" x="1077" y="724">GJ-2900</text></g>
<g id="n-gjl"><rect class="org" x="1016" y="755" width="55" height="20"/><text class="to" x="1043" y="763">PROCESOS LEGALES</text><text class="to" x="1043" y="768.500" style="font-size:4.200px">ADMINISTRATIVOS</text><text class="lb" x="1039" y="780">GJL-2910</text></g>
<g id="n-gjc"><rect class="org" x="1076" y="755" width="50" height="20"/><text class="to" x="1101" y="763">CONTRATACIÓN</text><text class="to" x="1101" y="768.500">PÚBLICA</text><text class="lb" x="1096" y="780">GJC-2920</text></g>
<g id="n-gjj"><rect class="org" x="1131" y="755" width="55" height="20"/><text class="to" x="1158" y="763">PROCESOS</text><text class="to" x="1158" y="768.500">JUDICIALES</text><text class="lb" x="1159" y="780">GJJ-2930</text></g>
<g id="n-gjr"><rect class="org" x="1191" y="755" width="51" height="20"/><text class="to" x="1216" y="760.500" style="font-size:4.200px">LEGALIZACIÓN DE</text><text class="to" x="1216" y="765.500" style="font-size:3.900px">INFORMES TÉCNICOS</text><text class="to" x="1216" y="770.500" style="font-size:4.200px">Y FINANCIEROS</text><text class="lb" x="1218" y="780">GJR-2940</text></g>
<g id="n-gs"><rect class="ger" x="1364" y="713" width="75" height="21"/><text class="tg" x="1401" y="718">GERENCIA DE</text><text class="tg" x="1401" y="725">TECNOLOGÍA DE</text><text class="tg" x="1401" y="732">INFORMACIÓN</text><text class="lb" x="1351" y="726">GS-3000</text></g>
<g id="n-gti1"><rect class="org" x="1259" y="756" width="56" height="20"/><text class="to" x="1287" y="764">ARQUITECTURA Y</text><text class="to" x="1287" y="769.500">PROYECTOS</text><text class="lb" x="1288" y="781">GTI 3010</text></g>
<g id="n-gti2"><rect class="org" x="1320" y="756" width="51" height="20"/><text class="to" x="1345" y="761">SISTEMAS DE</text><text class="to" x="1345" y="766">INFORMACIÓN</text><text class="to" x="1345" y="771.500" style="font-size:3.800px">TECNOLÓGICA Y SOCIAL</text><text class="lb" x="1345" y="781">GTI-3020</text></g>
<g id="n-gti3"><rect class="org" x="1377.500" y="756" width="50" height="20"/><text class="to" x="1402" y="760.500" style="font-size:4px">SOSTENIBILIDAD</text><text class="to" x="1402" y="764.500" style="font-size:4px">PLATAFORMA</text><text class="to" x="1402" y="769" style="font-size:4px">EMPRESARIAL</text><text class="to" x="1402" y="773.500" style="font-size:4px">ERP / BIO</text><text class="lb" x="1402" y="781">ISP-3030</text></g>
<g id="n-gti4"><rect class="org" x="1433" y="757" width="53" height="20"/><text class="to" x="1459" y="765">APLICACIONES E</text><text class="to" x="1459" y="770.500">INGENIERÍA</text><text class="lb" x="1460" y="782">GI-3040</text></g>
<g id="n-gti5"><rect class="org" x="1491" y="757" width="53" height="20"/><text class="to" x="1517" y="762.500" style="font-size:4.100px">INFRAESTRUCTURA Y</text><text class="to" x="1517" y="767.500">SEGURIDAD</text><text class="to" x="1517" y="772.500">INFORMÁTICA</text><text class="lb" x="1518" y="782">SEG-3050</text></g>
<g id="process-labels">
<text class="pr" transform="translate(1574 200) rotate(-90)">PROCESOS DE</text><text class="pr" transform="translate(1583 200) rotate(-90)">ASESORÍA</text>
<text class="pr" transform="translate(1575 302) rotate(-90)">PROCESOS</text><text class="pr" transform="translate(1586 302) rotate(-90)">GOBERNANTES</text>
<text class="pr" transform="translate(1575 472) rotate(-90)">PROCESOS</text><text class="pr" transform="translate(1586 472) rotate(-90)">AGREGADORES DE VALOR</text>
<text class="pr" transform="translate(1575 770) rotate(-90)">PROCESOS</text><text class="pr" transform="translate(1585 770) rotate(-90)">DE APOYO</text>
</g>
<g id="approval-table">
<path fill="none" stroke="#777" stroke-width="1" d="M1254 793H1564V868H1254ZM1254 805H1564M1351 793V868M1446 793V868"/>
<text class="tbl" x="1302" y="800.500" font-weight="bold">ELABORADO</text>
<text class="tbl" x="1398" y="800.500" font-weight="bold">REVISADO</text>
<text class="tbl" x="1505" y="800.500" font-weight="bold">APROBADO</text>
<text class="tbl" x="1302" y="812">Jefe Departamento Desarrollo Corporativo y</text>
<text class="tbl" x="1302" y="817.500">Sostenibilidad (E)</text>
<text class="tbl" x="1398" y="812" font-style="italic">Gerente Planificación y Desarrollo (E)</text>
<text class="tbl" x="1504" y="812" font-weight="bold">Gerente General</text>
<text class="tbl" x="1302" y="866">Ing. José Palacios</text>
<text class="tbl" x="1398" y="866">Eco. María Dolina Venado</text>
<text class="tbl" x="1503" y="866">Ing. Carlos A. Uriarte L</text>
</g>
<g id="signatures">
<path class="sg1" d="M1253 858C1238 848 1225 838 1232 829C1240 819 1275 824 1310 835C1330 841 1358 850 1352 853C1340 858 1310 857 1262 845M1250 848C1262 855 1270 842 1280 852C1290 842 1296 856 1305 846C1315 853 1325 845 1340 847L1345 837M1250 850L1320 852M1255 856L1320 862L1350 858M1270 850L1310 862"/>
<path class="sg2" d="M1356 850C1362 835 1366 835 1368 845C1372 838 1376 850 1362 854M1378 852C1380 838 1384 834 1384 842C1386 852 1378 860 1392 850C1398 845 1404 852 1412 848L1441 829C1446 824 1432 832 1424 846C1420 858 1436 864 1442 868M1412 846L1395 858M1404 840V856"/>
<path class="sg3" d="M1456 874L1490 838C1484 848 1488 852 1496 844L1504 836C1500 820 1510 795 1492 815C1496 800 1490 812 1500 840M1506 840C1510 822 1518 825 1520 812C1528 808 1545 800 1548 810C1540 818 1530 816 1520 825L1510 842M1530 790L1517 840M1458 868L1564 821M1522 830V866M1490 848L1470 866"/>
</g>
</g>
</svg>
